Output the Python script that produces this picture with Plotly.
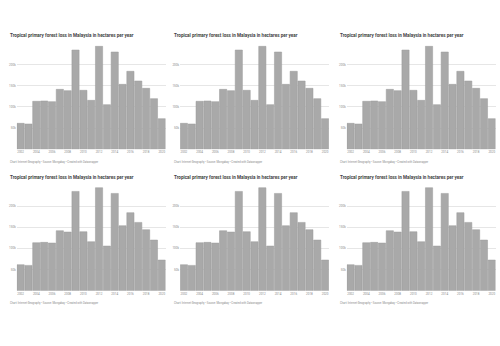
import plotly.graph_objects as go

years = list(range(2002, 2021))
loss_ha = [61400, 59800, 113400, 114200, 112600, 141700, 138600, 234600, 139400, 115700,
           243300, 105500, 229900, 153500, 184300, 161400, 144100, 119700, 72400]
ytick_vals = [50000, 100000, 150000, 200000]
ytick_text = ["50k", "100k", "150k", "200k"]
xtick_vals = list(range(2002, 2021, 2))
title_text = "Tropical primary forest loss in Malaysia in hectares per year"
caption_text = "Chart: Internet Geography • Source: Mongabay • Created with Datawrapper"

W, H = 500, 346
col_px = [(16.7, 165.7), (180.0, 329.0), (346.7, 495.7)]
row_px = [(43.5, 149.3), (184.9, 290.7)]

fig = go.Figure()
layout = {}
annotations = []
k = 0
for r, (top, bot) in enumerate(row_px):
    for c, (left, right) in enumerate(col_px):
        k += 1
        xa = "x" if k == 1 else f"x{k}"
        ya = "y" if k == 1 else f"y{k}"
        fig.add_trace(go.Bar(
            x=years, y=loss_ha, xaxis=xa, yaxis=ya,
            marker=dict(color="#a9a9a9", line=dict(color="#9a9a9a", width=0.5)),
            hoverinfo="x+y", showlegend=False,
        ))
        xkey = "xaxis" if k == 1 else f"xaxis{k}"
        ykey = "yaxis" if k == 1 else f"yaxis{k}"
        layout[xkey] = dict(
            domain=[left / W, right / W], anchor=ya, range=[2001.5, 2020.5],
            tickvals=xtick_vals, ticks="", showgrid=False, zeroline=False,
            showline=False, tickfont=dict(size=3, color="#8a8a8a", family="Roboto"),
            fixedrange=True,
        )
        layout[ykey] = dict(
            domain=[1 - bot / H, 1 - top / H], anchor=xa, range=[0, 250000],
            tickvals=ytick_vals, ticktext=ytick_text, ticks="",
            showgrid=True, gridcolor="#e6e6e6", gridwidth=0.6,
            zeroline=False, showline=False,
            tickfont=dict(size=3, color="#8a8a8a", family="Roboto"),
            fixedrange=True,
        )
        annotations.append(dict(
            x=(left - 8.4) / W, y=1 - (top - 7.8) / H, xref="paper", yref="paper",
            xanchor="left", yanchor="middle", showarrow=False,
            text="<b>" + title_text + "</b>",
            font=dict(size=4.6, color="#444444", family="Roboto"),
        ))
        annotations.append(dict(
            x=(left - 8.4) / W, y=1 - (bot + 12.4) / H, xref="paper", yref="paper",
            xanchor="left", yanchor="middle", showarrow=False,
            text=caption_text,
            font=dict(size=2.7, color="#8a8a8a", family="Roboto"),
        ))

fig.update_layout(
    width=W, height=H, margin=dict(l=0, r=0, t=0, b=0),
    paper_bgcolor="white", plot_bgcolor="white",
    bargap=0.08, annotations=annotations, **layout,
)
fig.write_html("out.html")
